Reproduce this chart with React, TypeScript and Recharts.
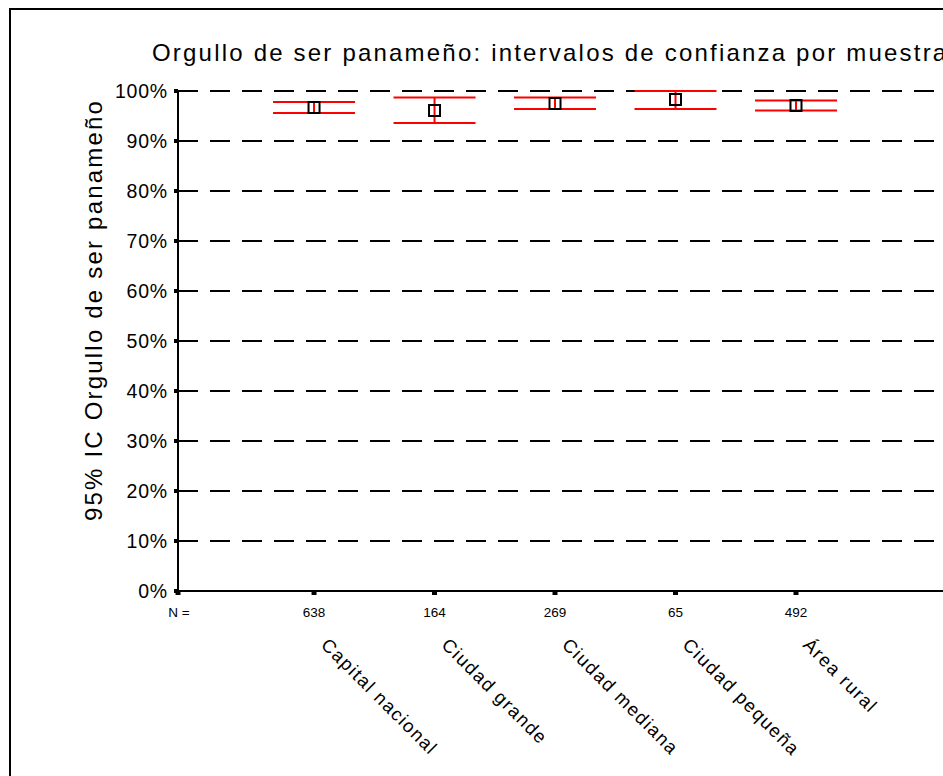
import React from 'react';
import { ComposedChart, Scatter, ErrorBar, XAxis, YAxis, CartesianGrid } from 'recharts';

const categories = ['Capital nacional', 'Ciudad grande', 'Ciudad mediana', 'Ciudad pequeña', 'Área rural'];
const sampleSizes = [638, 164, 269, 65, 492];
const means = [96.7, 96.1, 97.5, 98.3, 97.1];
const lowerBounds = [95.6, 93.6, 96.4, 96.4, 96.1];
const upperBounds = [97.8, 98.7, 98.7, 100.0, 98.1];
const yTicks = [0, 10, 20, 30, 40, 50, 60, 70, 80, 90, 100];

const X_MIN = -0.129;
const X_MAX = 6.22;

const data = categories.map((name, i) => ({
  pos: i + 1,
  name,
  n: sampleSizes[i],
  mean: means[i],
  err: [means[i] - lowerBounds[i], upperBounds[i] - means[i]],
}));

const FONT = '"Liberation Sans", Arial, sans-serif';

const MeanBox = (props: any) => {
  const { cx, cy } = props;
  if (cx == null || cy == null) return null;
  return <rect x={cx - 5.5} y={cy - 5.5} width={11} height={11} fill="none" stroke="#000" strokeWidth={2} />;
};

const CategoryTick = (props: any) => {
  const { x, payload } = props;
  const v = payload.value;
  if (v <= 0) {
    return (
      <text x={x + 1} y={617} textAnchor="middle" fontSize={13.5} fontFamily={FONT} fill="#000">
        N =
      </text>
    );
  }
  const row = data[Math.round(v) - 1];
  if (!row) return null;
  return (
    <g>
      <text x={x} y={617} textAnchor="middle" fontSize={13.5} fontFamily={FONT} fill="#000">
        {row.n}
      </text>
      <text
        transform={`translate(${x + 6}, 646) rotate(45)`}
        textAnchor="start"
        fontSize={18.5}
        letterSpacing={1.5}
        fontFamily={FONT}
        fill="#000"
      >
        {row.name}
      </text>
    </g>
  );
};

export default function App() {
  return (
    <div style={{ position: 'absolute', left: 0, top: 0, width: 943, height: 776, overflow: 'hidden', background: '#fff' }}>
      <div
        style={{
          position: 'absolute',
          left: 9,
          top: 8,
          width: 1100,
          height: 1100,
          border: '2px solid #000',
        }}
      />
      <div style={{ position: 'absolute', left: 0, top: 0 }}>
        <ComposedChart width={943} height={776} data={data} margin={{ top: 91, right: 0, bottom: 0, left: 0 }}>
          <CartesianGrid
            horizontal
            vertical={false}
            stroke="#000"
            strokeWidth={2}
            strokeDasharray="20 12"
          />
          <XAxis
            dataKey="pos"
            type="number"
            domain={[X_MIN, X_MAX]}
            ticks={[X_MIN, 1, 2, 3, 4, 5]}
            interval={0}
            height={185}
            axisLine={{ stroke: '#000', strokeWidth: 2 }}
            tickLine={{ stroke: '#000', strokeWidth: 5 }}
            tickSize={4}
            tick={<CategoryTick />}
            allowDataOverflow
          />
          <YAxis
            type="number"
            domain={[0, 100]}
            ticks={yTicks}
            interval={0}
            width={178}
            axisLine={{ stroke: '#000', strokeWidth: 2 }}
            tickLine={{ stroke: '#000', strokeWidth: 4 }}
            tickSize={4}
            tickMargin={6}
            tickFormatter={(v: number) => `${v}%`}
            tick={{ fill: '#000', fontSize: 19.5, fontFamily: FONT, letterSpacing: 0.8 }}
          />
          <Scatter dataKey="mean" shape={<MeanBox />} isAnimationActive={false}>
            <ErrorBar dataKey="err" direction="y" width={41} stroke="#ff0000" strokeWidth={2} isAnimationActive={false} />
          </Scatter>
        </ComposedChart>
      </div>
      <svg width={943} height={776} style={{ position: 'absolute', left: 0, top: 0, pointerEvents: 'none' }}>
        <text x={152} y={61} fontSize={24} letterSpacing={2.2} fontFamily={FONT} fill="#000">
          Orgullo de ser panameño: intervalos de confianza por muestra
        </text>
        <text
          transform="translate(102, 310) rotate(-90)"
          textAnchor="middle"
          fontSize={24}
          letterSpacing={2.2}
          fontFamily={FONT}
          fill="#000"
        >
          95% IC Orgullo de ser panameño
        </text>
      </svg>
    </div>
  );
}
